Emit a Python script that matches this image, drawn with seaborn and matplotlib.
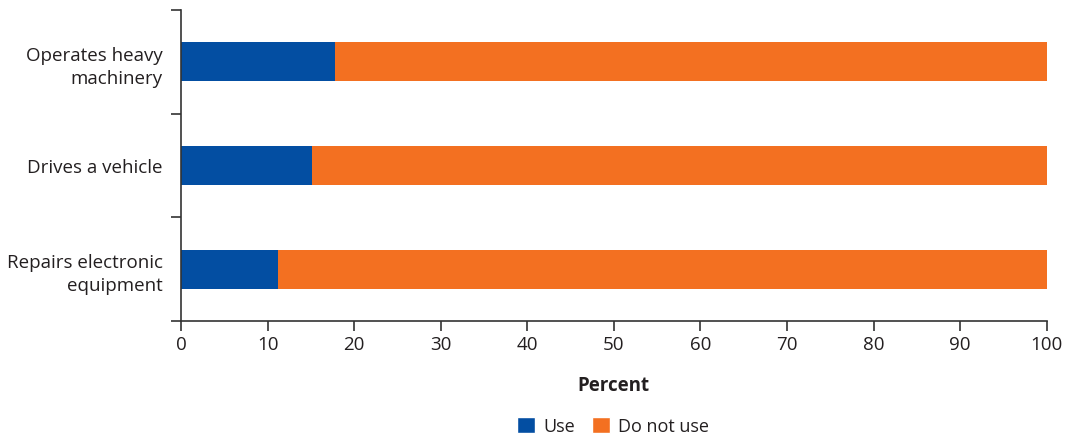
import numpy as np
import pandas as pd
import matplotlib
matplotlib.use("Agg")
import matplotlib.pyplot as plt
import seaborn as sns
from matplotlib.patches import Patch

# -----------------------------
# Data
# -----------------------------
categories = ["Operates heavy\nmachinery", "Drives a vehicle", "Repairs electronic\nequipment"]
use = [17.8, 15.1, 11.2]
do_not_use = [82.2, 84.9, 88.8]

BLUE = "#034EA2"
ORANGE = "#F37021"
AXIS_COLOR = "#333333"
TEXT_COLOR = "#231F20"
FONT_SIZE = 13.5

df = pd.DataFrame({"category": categories, "use": use, "do_not_use": do_not_use})
df["total"] = df["use"] + df["do_not_use"]

# -----------------------------
# Style
# -----------------------------
sns.set_theme(style="white")
plt.rcParams["font.family"] = ["Open Sans", "DejaVu Sans"]
plt.rcParams["text.color"] = TEXT_COLOR

fig = plt.figure(figsize=(10.68, 4.39), dpi=100)
ax = fig.add_axes([0.1695, 0.2665, 0.8105, 0.7085])

BAR_W = 0.375
sns.barplot(data=df, y="category", x="total", color=ORANGE, orient="h",
            width=BAR_W, saturation=1, ax=ax, linewidth=0)
sns.barplot(data=df, y="category", x="use", color=BLUE, orient="h",
            width=BAR_W, saturation=1, ax=ax, linewidth=0)

# -----------------------------
# Axes
# -----------------------------
ax.set_xlim(0, 100)
ax.set_ylim(2.5, -0.5)
ax.set_xticks(np.arange(0, 101, 10))
ax.tick_params(axis="x", labelsize=FONT_SIZE, colors=TEXT_COLOR, length=7, width=1.2,
               direction="out", bottom=True, pad=3, color=AXIS_COLOR)
ax.tick_params(axis="y", which="major", labelsize=FONT_SIZE, colors=TEXT_COLOR, length=0, pad=13)
ax.set_yticks([-0.5, 0.5, 1.5, 2.5], minor=True)
ax.tick_params(axis="y", which="minor", length=7, width=1.2, left=True, color=AXIS_COLOR)

for side in ["top", "right"]:
    ax.spines[side].set_visible(False)
for side in ["left", "bottom"]:
    ax.spines[side].set_color(AXIS_COLOR)
    ax.spines[side].set_linewidth(1.2)

ax.set_ylabel("")
ax.set_xlabel("Percent", fontsize=FONT_SIZE, fontweight="bold", labelpad=16, color=TEXT_COLOR)
for lbl in ax.get_yticklabels():
    lbl.set_horizontalalignment("right")
    lbl.set_multialignment("right")
    lbl.set_linespacing(1.35)

handles = [Patch(facecolor=BLUE, label="Use"), Patch(facecolor=ORANGE, label="Do not use")]
fig.legend(handles=handles, loc="center", bbox_to_anchor=(0.574, 0.027), ncol=2,
           frameon=False, fontsize=13, handlelength=1.0, handleheight=1.0,
           handletextpad=0.45, columnspacing=0.9)

fig.savefig("out.png", dpi=100)
